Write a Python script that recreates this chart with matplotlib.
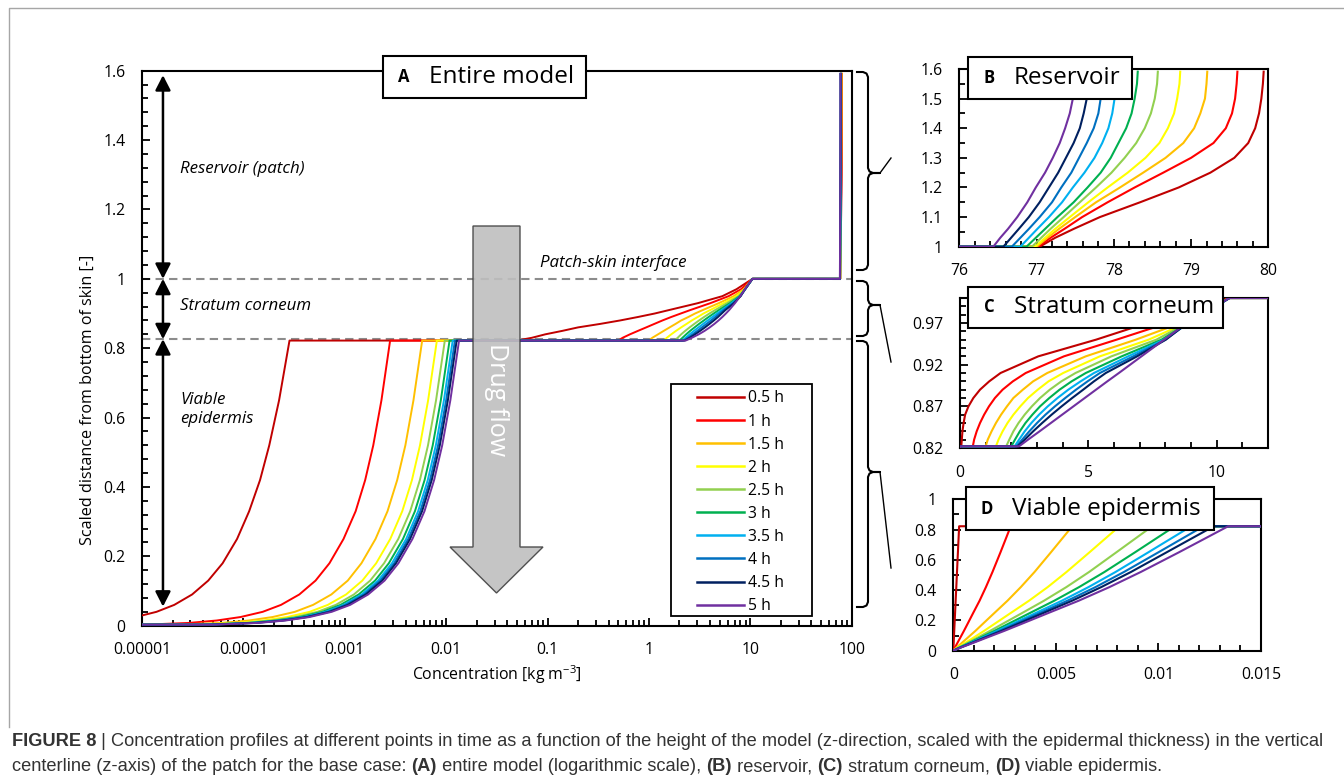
import matplotlib
matplotlib.use("Agg")
import matplotlib.pyplot as plt
import matplotlib.ticker as mticker
from matplotlib.patches import Rectangle, Polygon
from matplotlib.lines import Line2D
import numpy as np

W, H = 1344, 780
plt.rcParams['font.family'] = ['Open Sans', 'DejaVu Sans']
plt.rcParams['mathtext.fontset'] = 'custom'
plt.rcParams['mathtext.rm'] = 'Open Sans'

times = ['0.5 h', '1 h', '1.5 h', '2 h', '2.5 h', '3 h', '3.5 h', '4 h', '4.5 h', '5 h']
colors = ['#C00000', '#FF0000', '#FFC000', '#FFFF00', '#92D050',
          '#00B050', '#00B0F0', '#0070C0', '#002060', '#7030A0']

# viable epidermis (z from 0 to 0.822)
z_ve = [0, 0.003, 0.008, 0.015, 0.025, 0.04, 0.06, 0.09, 0.13, 0.18, 0.25, 0.33, 0.42, 0.52, 0.65, 0.822]
c_ve = [
    [0, 1.04e-6, 2.77e-6, 5.2e-6, 8.67e-6, 1.39e-5, 2.08e-5, 3.12e-5, 4.5e-5, 6.24e-5, 8.66e-5, 1.14e-4, 1.46e-4, 1.8e-4, 2.25e-4, 2.85e-4],
    [0, 1.06e-5, 2.91e-5, 5.46e-5, 9.38e-5, 1.55e-4, 2.35e-4, 3.56e-4, 5.15e-4, 7.06e-4, 9.72e-4, 1.28e-3, 1.59e-3, 1.91e-3, 2.30e-3, 2.8e-3],
    [0, 2.2e-5, 6.03e-5, 1.13e-4, 1.94e-4, 3.22e-4, 4.87e-4, 7.37e-4, 1.07e-3, 1.46e-3, 2.01e-3, 2.64e-3, 3.29e-3, 3.96e-3, 4.76e-3, 5.8e-3],
    [0, 3.08e-5, 8.42e-5, 1.58e-4, 2.71e-4, 4.5e-4, 6.8e-4, 1.03e-3, 1.49e-3, 2.04e-3, 2.81e-3, 3.69e-3, 4.6e-3, 5.52e-3, 6.64e-3, 8.1e-3],
    [0, 3.69e-5, 1.01e-4, 1.89e-4, 3.25e-4, 5.38e-4, 8.15e-4, 1.23e-3, 1.78e-3, 2.44e-3, 3.37e-3, 4.42e-3, 5.51e-3, 6.62e-3, 7.95e-3, 9.7e-3],
    [0, 4.1e-5, 1.12e-4, 2.11e-4, 3.62e-4, 5.99e-4, 9.07e-4, 1.37e-3, 1.99e-3, 2.72e-3, 3.75e-3, 4.92e-3, 6.13e-3, 7.37e-3, 8.86e-3, 1.08e-2],
    [0, 4.41e-5, 1.21e-4, 2.26e-4, 3.89e-4, 6.44e-4, 9.74e-4, 1.47e-3, 2.13e-3, 2.92e-3, 4.03e-3, 5.29e-3, 6.59e-3, 7.91e-3, 9.51e-3, 1.16e-2],
    [0, 4.64e-5, 1.27e-4, 2.38e-4, 4.09e-4, 6.77e-4, 1.02e-3, 1.55e-3, 2.24e-3, 3.07e-3, 4.23e-3, 5.56e-3, 6.93e-3, 8.32e-3, 1.0e-2, 1.22e-2],
    [0, 4.83e-5, 1.32e-4, 2.48e-4, 4.25e-4, 7.05e-4, 1.07e-3, 1.61e-3, 2.34e-3, 3.2e-3, 4.41e-3, 5.79e-3, 7.21e-3, 8.66e-3, 1.04e-2, 1.27e-2],
    [0, 5.09e-5, 1.39e-4, 2.61e-4, 4.49e-4, 7.44e-4, 1.13e-3, 1.70e-3, 2.47e-3, 3.38e-3, 4.65e-3, 6.11e-3, 7.61e-3, 9.14e-3, 1.1e-2, 1.34e-2],
]

# stratum corneum (z from 0.822 to 1)
z_sc = [0.822, 0.83, 0.84, 0.85, 0.86, 0.87, 0.88, 0.89, 0.90, 0.91, 0.93, 0.95, 0.97, 1.0]
c_sc = [
    [0.05, 0.07, 0.095, 0.14, 0.2, 0.33, 0.52, 0.78, 1.14, 1.58, 3.05, 5.3, 7.3, 10.5],
    [0.5, 0.55, 0.65, 0.78, 0.94, 1.13, 1.36, 1.66, 2.06, 2.56, 4.05, 6.1, 8.1, 10.5],
    [1.0, 1.08, 1.23, 1.4, 1.6, 1.83, 2.08, 2.45, 2.85, 3.4, 4.9, 6.85, 8.6, 10.5],
    [1.4, 1.5, 1.66, 1.85, 2.08, 2.35, 2.65, 3.03, 3.45, 4.02, 5.45, 7.35, 8.8, 10.5],
    [1.8, 1.92, 2.08, 2.28, 2.52, 2.8, 3.12, 3.5, 3.95, 4.5, 5.9, 7.65, 8.85, 10.5],
    [2.0, 2.14, 2.33, 2.55, 2.82, 3.12, 3.48, 3.88, 4.35, 4.9, 6.3, 7.85, 8.9, 10.5],
    [2.13, 2.3, 2.52, 2.78, 3.08, 3.42, 3.8, 4.22, 4.7, 5.22, 6.55, 7.95, 8.9, 10.5],
    [2.2, 2.42, 2.7, 3.0, 3.33, 3.7, 4.1, 4.52, 4.97, 5.45, 6.75, 8.0, 8.88, 10.5],
    [2.25, 2.52, 2.85, 3.2, 3.57, 3.96, 4.37, 4.8, 5.22, 5.68, 6.9, 8.02, 8.86, 10.5],
    [2.3, 2.65, 3.1, 3.54, 3.98, 4.42, 4.86, 5.3, 5.74, 6.19, 7.07, 7.95, 8.84, 10.5],
]

# reservoir (z from 1 to 1.591)
z_res = [1.0, 1.03, 1.06, 1.1, 1.15, 1.2, 1.25, 1.3, 1.35, 1.4, 1.45, 1.5, 1.55, 1.591]
c_res = [
    [77.04, 77.24, 77.48, 77.82, 78.34, 78.84, 79.25, 79.56, 79.74, 79.83, 79.88, 79.91, 79.93, 79.94],
    [77.02, 77.18, 77.36, 77.59, 77.92, 78.27, 78.64, 79.0, 79.29, 79.45, 79.53, 79.57, 79.59, 79.60],
    [77.0, 77.14, 77.29, 77.50, 77.77, 78.08, 78.38, 78.67, 78.9, 79.04, 79.12, 79.18, 79.2, 79.21],
    [76.98, 77.11, 77.24, 77.43, 77.67, 77.92, 78.18, 78.41, 78.59, 78.70, 78.78, 78.82, 78.85, 78.86],
    [76.94, 77.06, 77.18, 77.35, 77.56, 77.77, 77.97, 78.14, 78.29, 78.40, 78.48, 78.53, 78.56, 78.57],
    [76.87, 76.99, 77.11, 77.27, 77.48, 77.66, 77.83, 77.96, 78.06, 78.16, 78.23, 78.27, 78.3, 78.31],
    [76.79, 76.9, 77.01, 77.16, 77.33, 77.47, 77.62, 77.75, 77.85, 77.93, 77.98, 78.01, 78.04, 78.05],
    [76.68, 76.79, 76.9, 77.04, 77.2, 77.32, 77.45, 77.55, 77.65, 77.74, 77.8, 77.83, 77.85, 77.85],
    [76.57, 76.67, 76.77, 76.9, 77.04, 77.16, 77.28, 77.38, 77.48, 77.56, 77.61, 77.65, 77.67, 77.67],
    [76.44, 76.53, 76.63, 76.75, 76.88, 76.99, 77.11, 77.21, 77.3, 77.37, 77.43, 77.47, 77.49, 77.5],
]

profiles = []
for i in range(len(times)):
    profiles.append((c_ve[i] + c_sc[i] + c_res[i], z_ve + z_sc + z_res))

fig = plt.figure(figsize=(W / 100, H / 100), dpi=100)


def fx(x):
    return x / W


def fy(y):
    return 1 - y / H


def px_axes(l, t, r, b):
    return fig.add_axes([fx(l), fy(b), (r - l) / W, (b - t) / H])


def excel_fmt(v, pos):
    return np.format_float_positional(round(v, 6), trim='-')


def style(ax):
    for s in ax.spines.values():
        s.set_linewidth(1.5)
    ax.tick_params(which='both', direction='in', labelsize=11.3, pad=12, width=1.3)
    ax.tick_params(which='major', length=6)
    ax.tick_params(which='minor', length=4)
    ax.xaxis.set_major_formatter(mticker.FuncFormatter(excel_fmt))
    ax.yaxis.set_major_formatter(mticker.FuncFormatter(excel_fmt))


def draw_profiles(ax, lw):
    for (c, z), col in zip(profiles, colors):
        ax.plot(c, z, color=col, lw=lw, solid_joinstyle='round', zorder=3)


# outer frame
fig.add_artist(Line2D([fx(9), fx(9), fx(1350)], [fy(727), fy(8), fy(8)],
                      transform=fig.transFigure, color='#a6a6a6', lw=1))

# ---- panel A ----
axA = px_axes(142, 70.7, 851.7, 625.7)
axA.set_xscale('log')
axA.set_xlim(1e-5, 100)
axA.set_ylim(0, 1.6)
axA.xaxis.set_major_locator(mticker.LogLocator(base=10, numticks=20))
axA.xaxis.set_minor_locator(mticker.LogLocator(base=10, subs=np.arange(2, 10), numticks=20))
axA.yaxis.set_major_locator(mticker.MultipleLocator(0.2))
axA.yaxis.set_minor_locator(mticker.MultipleLocator(0.04))
style(axA)
axA.xaxis.set_minor_formatter(mticker.NullFormatter())
for zl in (1.0, 0.826):
    axA.axhline(zl, color='#8c8c8c', ls=(0, (4, 2.5)), lw=1.5, zorder=1)
draw_profiles(axA, 1.4)

arrow_kw = dict(arrowstyle='<|-|>,head_length=0.45,head_width=0.23', color='black',
                lw=1.8, shrinkA=0, shrinkB=0, mutation_scale=20)
for z0, z1 in [(1.0, 1.587), (0.826, 1.0), (0.055, 0.826)]:
    axA.annotate('', xy=(1.61e-5, z1), xytext=(1.61e-5, z0), arrowprops=arrow_kw)

lab_kw = dict(fontsize=12.2, style='italic', ha='left', va='center')
fig.text(fx(180), fy(169), 'Reservoir (patch)', **lab_kw)
fig.text(fx(180), fy(306), 'Stratum corneum', **lab_kw)
fig.text(fx(180), fy(409.5), 'Viable\nepidermis', linespacing=1.3, **lab_kw)
fig.text(fx(540), fy(263), 'Patch-skin interface', **lab_kw)

fig.text(fx(88), fy(400), 'Scaled distance from bottom of skin [-]', rotation=90,
         fontsize=11.6, ha='center', va='center')
fig.text(fx(497), fy(675), 'Concentration [kg m$^{-3}$]', fontsize=11.4,
         ha='center', va='center')

# drug flow arrow
arrow_px = [(473, 226), (520, 226), (520, 547), (543, 547), (496.5, 593), (450, 547), (473, 547)]
fig.add_artist(Polygon([(fx(x), fy(y)) for x, y in arrow_px], closed=True,
                       transform=fig.transFigure, facecolor='#bfbfbf',
                       edgecolor='#404040', lw=1, alpha=0.9, zorder=3))
fig.text(fx(496.5), fy(400), 'Drug flow', rotation=-90, color='white', fontsize=18,
         ha='center', va='center', zorder=4)

# legend
fig.add_artist(Rectangle((fx(670.7), fy(615.7)), (812 - 670.7) / W, (615.7 - 384) / H,
                         transform=fig.transFigure, facecolor='white',
                         edgecolor='black', lw=1.3, zorder=2))
handles = [Line2D([], [], color=c, lw=1.8) for c in colors]
leg = fig.legend(handles, times, loc='upper left', bbox_to_anchor=(fx(697), fy(390.5)),
                 bbox_transform=fig.transFigure, frameon=False, borderpad=0,
                 borderaxespad=0, handlelength=3.0, handletextpad=0.25,
                 labelspacing=0.45, fontsize=11.3)
leg.set_zorder(6)

# ---- panel B ----
axB = px_axes(959.3, 69, 1268.3, 246.7)
axB.set_xlim(76, 80)
axB.set_ylim(1, 1.6)
axB.xaxis.set_major_locator(mticker.MultipleLocator(1))
axB.xaxis.set_minor_locator(mticker.MultipleLocator(0.2))
axB.yaxis.set_major_locator(mticker.MultipleLocator(0.1))
axB.yaxis.set_minor_locator(mticker.MultipleLocator(0.05))
style(axB)
draw_profiles(axB, 1.5)

# ---- panel C ----
axC = px_axes(960, 298, 1268, 448)
axC.set_xlim(0, 12)
axC.set_ylim(0.82, 1.0)
axC.xaxis.set_major_locator(mticker.MultipleLocator(5))
axC.xaxis.set_minor_locator(mticker.MultipleLocator(1))
axC.yaxis.set_major_locator(mticker.FixedLocator([0.82, 0.87, 0.92, 0.97]))
axC.yaxis.set_minor_locator(mticker.MultipleLocator(0.01))
style(axC)
draw_profiles(axC, 1.5)

# ---- panel D ----
axD = px_axes(953.3, 499.3, 1261, 650.7)
axD.set_xlim(0, 0.015)
axD.set_ylim(0, 1)
axD.xaxis.set_major_locator(mticker.MultipleLocator(0.005))
axD.xaxis.set_minor_locator(mticker.MultipleLocator(0.001))
axD.yaxis.set_major_locator(mticker.MultipleLocator(0.2))
axD.yaxis.set_minor_locator(mticker.MultipleLocator(0.1))
style(axD)
draw_profiles(axD, 1.5)


# panel title boxes
def title_box(l, t, r, b, letter, label):
    fig.add_artist(Rectangle((fx(l), fy(b)), (r - l) / W, (b - t) / H,
                             transform=fig.transFigure, facecolor='white',
                             edgecolor='black', lw=1.5, zorder=5))
    yc = fy((t + b) / 2)
    fig.text(fx(l + 21), yc, letter, fontsize=12, fontweight='bold',
             ha='center', va='center', zorder=6)
    fig.text(fx(l + 46), yc, label, fontsize=17.5, ha='left', va='center', zorder=6)


title_box(383, 56, 586, 98, 'A', 'Entire model')
title_box(968, 57, 1131.7, 99.3, 'B', 'Reservoir')
title_box(968, 286.7, 1222.7, 328.3, 'C', 'Stratum corneum')
title_box(966, 487.3, 1214, 530, 'D', 'Viable epidermis')


# braces linking panel A to the zoomed panels
def brace(y0, ym, y1, end):
    xs = [857, 863, 866.5, 868, 868, 869.5, 873, 880, 873, 869.5, 868, 868, 866.5, 863, 857]
    ys = [y0, y0, y0 + 1.5, y0 + 5, ym - 5, ym - 1.5, ym, ym, ym, ym + 1.5, ym + 5,
          y1 - 5, y1 - 1.5, y1, y1]
    fig.add_artist(Line2D([fx(x) for x in xs], [fy(y) for y in ys],
                          transform=fig.transFigure, color='black', lw=1.5))
    fig.add_artist(Line2D([fx(880), fx(end[0])], [fy(ym), fy(end[1])],
                          transform=fig.transFigure, color='black', lw=1))


brace(72, 173, 270, (891, 158))
brace(281, 305, 336, (891, 362))
brace(341, 472, 607, (891, 568))

# caption
renderer = fig.canvas.get_renderer()
cap_font = ['Liberation Sans Narrow', 'Liberation Sans', 'DejaVu Sans']


def text_width(s, **props):
    t1 = fig.text(0, 0, '|' + s + '|', **props)
    t2 = fig.text(0, 0, '||', **props)
    w = t1.get_window_extent(renderer).width - t2.get_window_extent(renderer).width
    t1.remove()
    t2.remove()
    return w


line1 = [('FIGURE 8', 'bold'),
         (' | Concentration profiles at different points in time as a function of the height '
          'of the model (z-direction, scaled with the epidermal thickness) in the vertical', 'normal')]
line2 = [('centerline (z-axis) of the patch for the base case: ', 'normal'), ('(A)', 'bold'),
         (' entire model (logarithmic scale), ', 'normal'), ('(B)', 'bold'),
         (' reservoir, ', 'normal'), ('(C)', 'bold'), (' stratum corneum, ', 'normal'),
         ('(D)', 'bold'), (' viable epidermis.', 'normal')]

w10 = sum(text_width(s, family=cap_font, fontsize=10, fontweight=wt) for s, wt in line1)
cap_size = 10 * 1315 / w10

for pieces, yb in [(line1, 746), (line2, 771)]:
    x = 12
    for s, wt in pieces:
        props = dict(family=cap_font, fontsize=cap_size, fontweight=wt)
        fig.text(fx(x), fy(yb), s, color='#333333', ha='left', va='baseline', **props)
        x += text_width(s, **props)

fig.savefig('out.png', dpi=100)
